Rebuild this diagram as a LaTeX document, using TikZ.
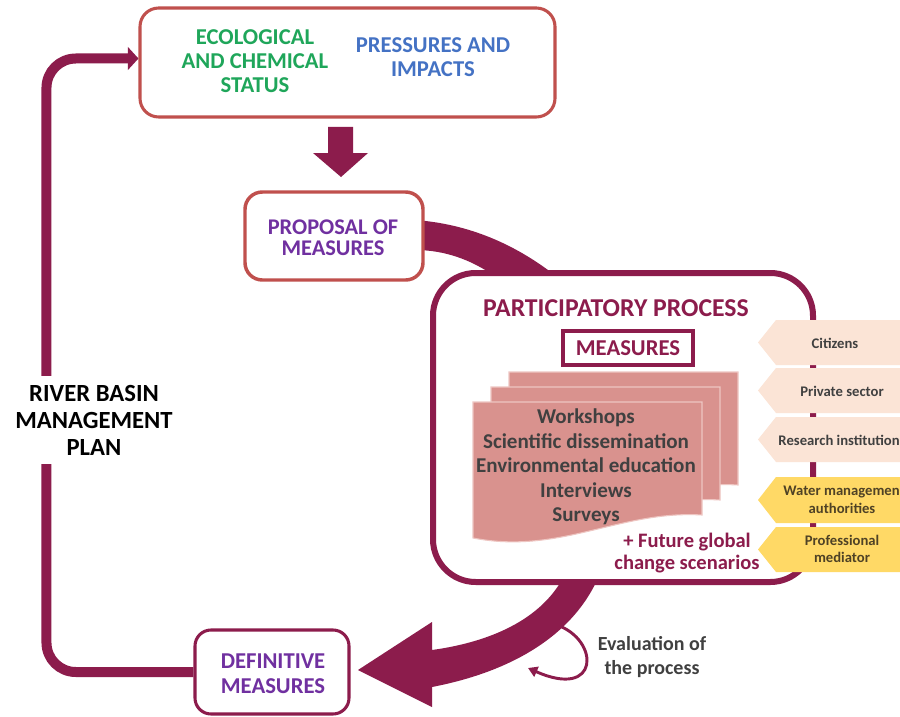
\documentclass[tikz,border=0pt]{standalone}
\usepackage{fontspec}
\setmainfont{Carlito}
\usetikzlibrary{fit,calc,arrows.meta}
\definecolor{mag}{HTML}{8C1C4C}
\definecolor{boxred}{HTML}{C0504D}
\definecolor{ecogreen}{HTML}{1FA65A}
\definecolor{presblue}{HTML}{4472C4}
\definecolor{purp}{HTML}{7030A0}
\definecolor{sheet}{HTML}{D9928E}
\definecolor{sheetedge}{HTML}{EEC6C2}
\definecolor{tagpink}{HTML}{FBE4D6}
\definecolor{tagyel}{HTML}{FFD966}
\definecolor{txtgray}{HTML}{404040}
\definecolor{yeltxt}{HTML}{4F4225}
\newcommand\sheetshape[2]{\filldraw[sheetstyle, shift={(#1,#2)}] (473,402) -- (702,402) -- (702,515) .. controls (620,510) and (560,555) .. (473,538) -- cycle;}
\newcommand\tagshape[3]{\fill[#3] (905,#1) -- (776,#1) -- (758,{(#1+#2)/2}) -- (776,#2) -- (905,#2) -- cycle;}
\begin{document}
\begin{tikzpicture}[x=0.75pt,y=-0.75pt,
  every node/.style={inner sep=0pt, align=center},
  frame/.style={draw=boxred, line width=2.3pt, rounded corners=14pt, fill=white},
  ppframe/.style={draw=mag, line width=4.5pt, rounded corners=32pt, fill=white},
  boxtxt/.style={font=\fontsize{17}{18}\selectfont\bfseries},
  acttxt/.style={font=\fontsize{15.8}{18.4}\selectfont\bfseries, text=txtgray},
  tagtxt/.style={font=\fontsize{11}{13}\selectfont\bfseries, text=txtgray},
  tagtxtb/.style={font=\fontsize{11}{13}\selectfont\bfseries, text=yeltxt},
  sheetstyle/.style={fill=sheet, draw=sheetedge, line width=0.8pt},
  fb/.style={draw=mag, line width=7.5pt, rounded corners=22pt, -{Triangle[length=8pt,width=17pt]}},
  evalarrow/.style={draw=mag, line width=2.2pt, -{Triangle[length=7pt,width=8pt]}},
]
\useasboundingbox (0,0) rectangle (900,717);
\fill[white] (0,0) rectangle (900,717);

% band from proposal to participatory process
\fill[mag] (415,220) .. controls (470,224) and (515,245) .. (552,273) -- (490,273) .. controls (470,260) and (445,250) .. (415,250) -- cycle;

% big curved arrow
\fill[mag] (563,578) .. controls (540,620) and (490,642) .. (432,650) -- (432,622) -- (358,670) -- (432,707) -- (432,687) .. controls (520,670) and (575,630) .. (598,578) -- cycle;

% evaluation arrow
\coordinate (evs) at (557,625);
\coordinate (eve) at (528,668);
\draw[evalarrow] (evs) .. controls (600,640) and (600,700) .. (eve);

% boxes
\node[frame, fit={(140,8) (555,117)}] (top) {};
\node[frame, line width=2.6pt, rounded corners=13pt, fit={(245,192) (423,280)}] (prop) {};
\node[frame, draw=mag, rounded corners=12pt, fit={(195,630) (349,714)}] (def) {};
\node[ppframe, fit={(433,273) (813,582)}] (pp) {};

% feedback loop
\draw[fb] (def.west) -| ($(top.west)+(-92,-4)$) -- ($(top.west)+(0,-4)$);
\node[fill=white, inner xsep=2pt, inner ysep=7pt, font=\fontsize{18.5}{20.2}\selectfont\bfseries] (rbmp) at (94,420) {RIVER BASIN\\MANAGEMENT\\PLAN};

% down arrow
\fill[mag] (328,127) -- (353,127) -- (353,153) -- (368,153) -- (341,177) -- (313,153) -- (328,153) -- cycle;

% texts in boxes
\node[boxtxt, text=ecogreen] (ecol) at (255,61) {ECOLOGICAL\\AND CHEMICAL\\STATUS};
\node[boxtxt, text=presblue] (press) at (433,57) {PRESSURES AND\\IMPACTS};
\node[boxtxt, text=purp, font=\fontsize{16.8}{16}\selectfont\bfseries] (proptxt) at (333,238) {PROPOSAL OF\\MEASURES};
\node[boxtxt, text=purp, font=\fontsize{17}{19}\selectfont\bfseries] (deftxt) at (273,674) {DEFINITIVE\\MEASURES};

% participatory process content
\node[font=\fontsize{19.3}{20}\selectfont\bfseries, text=mag] (pptitle) at (616,308) {PARTICIPATORY PROCESS};
\node[draw=mag, line width=2.6pt, minimum width=97.5pt, minimum height=25.5pt, font=\fontsize{17}{18}\selectfont\bfseries, text=mag] (meas) at (628,348) {MEASURES};
\sheetshape{36}{-30}
\sheetshape{18}{-15}
\sheetshape{0}{0}
\node[acttxt] (acts) at (586,467) {Workshops\\Scientific dissemination\\Environmental education\\Interviews\\Surveys};
\node[font=\fontsize{15.4}{17}\selectfont\bfseries, text=mag] (future) at (687,553) {+ Future global\\change scenarios};

% stakeholder tags
\tagshape{320}{365}{tagpink}
\tagshape{368}{413}{tagpink}
\tagshape{417}{462}{tagpink}
\tagshape{477}{523}{tagyel}
\tagshape{527}{572}{tagyel}
\node[tagtxt] (cit) at (835,343) {Citizens};
\node[tagtxt] (priv) at (842,391) {Private sector};
\node[tagtxt, anchor=east] (res) at (900,440) {Research institution};
\node[tagtxtb, anchor=east] (wat1) at (900,492) {Water managemen};
\node[tagtxtb] (wat2) at (842,508) {authorities};
\node[tagtxtb] (prof) at (842,549) {Professional\\mediator};

% evaluation label
\node[font=\fontsize{15}{18}\selectfont\bfseries, text=txtgray] (evaltxt) at (652,657) {Evaluation of\\the process};
\end{tikzpicture}
\end{document}
